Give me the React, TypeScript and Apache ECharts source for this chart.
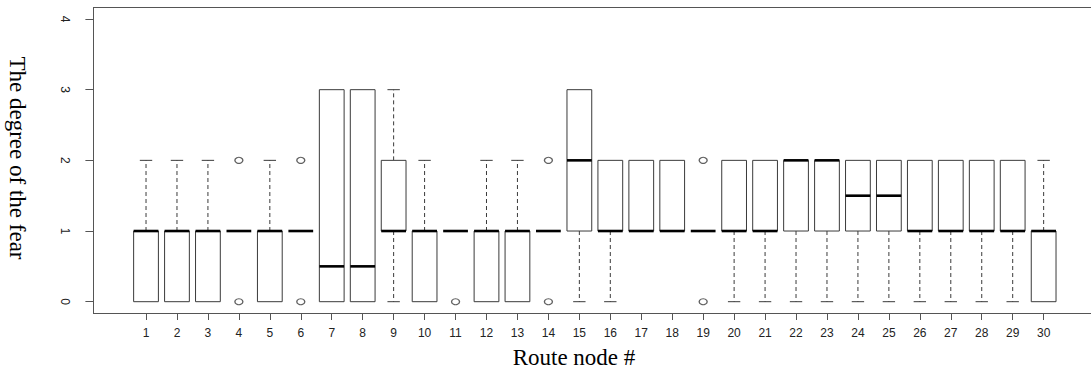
import React, { useEffect, useRef } from "react";
import * as echarts from "echarts";

const nodes = [1, 2, 3, 4, 5, 6, 7, 8, 9, 10, 11, 12, 13, 14, 15, 16, 17, 18, 19, 20, 21, 22, 23, 24, 25, 26, 27, 28, 29, 30];
const whiskerLow = [0, 0, 0, 1, 0, 1, 0, 0, 0, 0, 1, 0, 0, 1, 0, 0, 1, 1, 1, 0, 0, 0, 0, 0, 0, 0, 0, 0, 0, 0];
const q1 = [0, 0, 0, 1, 0, 1, 0, 0, 1, 0, 1, 0, 0, 1, 1, 1, 1, 1, 1, 1, 1, 1, 1, 1, 1, 1, 1, 1, 1, 0];
const median = [1, 1, 1, 1, 1, 1, 0.5, 0.5, 1, 1, 1, 1, 1, 1, 2, 1, 1, 1, 1, 1, 1, 2, 2, 1.5, 1.5, 1, 1, 1, 1, 1];
const q3 = [1, 1, 1, 1, 1, 1, 3, 3, 2, 1, 1, 1, 1, 1, 3, 2, 2, 2, 1, 2, 2, 2, 2, 2, 2, 2, 2, 2, 2, 1];
const whiskerHigh = [2, 2, 2, 1, 2, 1, 3, 3, 3, 2, 1, 2, 2, 1, 3, 2, 2, 2, 1, 2, 2, 2, 2, 2, 2, 2, 2, 2, 2, 2];
const outlierNode = [4, 4, 6, 6, 11, 14, 14, 19, 19];
const outlierValue = [0, 2, 0, 2, 0, 0, 2, 0, 2];
const yTicks = [0, 1, 2, 3, 4];

const xTitle = "Route node #";
const yTitle = "The degree of the fear";

export default function App() {
  const ref = useRef<HTMLDivElement>(null);
  useEffect(() => {
    if (!ref.current) return;
    const chart = echarts.init(ref.current, null, { renderer: "svg" });
    const boxData = nodes.map((n, i) => [n, whiskerLow[i], q1[i], median[i], q3[i], whiskerHigh[i]]);
    const outliers = outlierNode.map((n, i) => [n, outlierValue[i]]);
    const lineColor = "#3a3a3a";
    const xMin = -0.7;
    const xMax = 31.53;
    chart.setOption({
      animation: false,
      grid: {
        left: 93.4,
        top: 7.7,
        right: 0,
        height: 305.3,
      },
      xAxis: [
        {
          type: "value",
          min: xMin,
          max: xMax,
          splitLine: { show: false },
          axisLine: { show: true, onZero: false, lineStyle: { color: "#555", width: 1 } },
          axisTick: { show: true, customValues: nodes, length: 7, lineStyle: { color: "#555" } },
          axisLabel: {
            customValues: nodes,
            color: "#222",
            fontSize: 12,
            fontFamily: "Liberation Sans, Arial, sans-serif",
            margin: 14,
          },
        },
        {
          type: "value",
          position: "top",
          min: xMin,
          max: xMax,
          splitLine: { show: false },
          axisLine: { show: true, onZero: false, lineStyle: { color: "#555", width: 1 } },
          axisTick: { show: false },
          axisLabel: { show: false },
        },
      ],
      yAxis: {
        type: "value",
        min: -0.16,
        max: 4.16,
        splitLine: { show: false },
        axisLine: { show: true, onZero: false, lineStyle: { color: "#555", width: 1 } },
        axisTick: { show: true, customValues: yTicks, length: 8, lineStyle: { color: "#555" } },
        axisLabel: {
          customValues: yTicks,
          rotate: -90,
          color: "#222",
          fontSize: 12,
          fontFamily: "Liberation Sans, Arial, sans-serif",
          margin: 22,
        },
      },
      graphic: [
        {
          type: "text",
          x: 17,
          y: 158,
          rotation: -Math.PI / 2,
          style: {
            text: yTitle,
            fontSize: 23,
            fontFamily: "Liberation Serif, Times New Roman, serif",
            fill: "#000",
            align: "center",
            verticalAlign: "middle",
          },
        },
        {
          type: "text",
          x: 574,
          y: 357,
          style: {
            text: xTitle,
            fontSize: 23,
            fontFamily: "Liberation Serif, Times New Roman, serif",
            fill: "#000",
            align: "center",
            verticalAlign: "middle",
          },
        },
      ],
      series: [
        {
          type: "custom",
          xAxisIndex: 0,
          data: boxData,
          encode: { x: 0, y: [1, 2, 3, 4, 5] },
          renderItem: (params: any, api: any) => {
            const x = api.value(0);
            const lo = api.value(1);
            const a = api.value(2);
            const m = api.value(3);
            const b = api.value(4);
            const hi = api.value(5);
            const cx = api.coord([x, m])[0];
            const w = api.size([0.8, 0])[0];
            const yLo = api.coord([x, lo])[1];
            const yA = api.coord([x, a])[1];
            const yM = api.coord([x, m])[1];
            const yB = api.coord([x, b])[1];
            const yHi = api.coord([x, hi])[1];
            const children: any[] = [];
            if (hi > b) {
              children.push({
                type: "line",
                shape: { x1: cx, y1: yB, x2: cx, y2: yHi },
                style: { stroke: lineColor, lineWidth: 1, lineDash: [4, 3] },
              });
              children.push({
                type: "line",
                shape: { x1: cx - w / 4, y1: yHi, x2: cx + w / 4, y2: yHi },
                style: { stroke: lineColor, lineWidth: 1 },
              });
            }
            if (lo < a) {
              children.push({
                type: "line",
                shape: { x1: cx, y1: yA, x2: cx, y2: yLo },
                style: { stroke: lineColor, lineWidth: 1, lineDash: [4, 3] },
              });
              children.push({
                type: "line",
                shape: { x1: cx - w / 4, y1: yLo, x2: cx + w / 4, y2: yLo },
                style: { stroke: lineColor, lineWidth: 1 },
              });
            }
            if (b > a) {
              children.push({
                type: "rect",
                shape: { x: cx - w / 2, y: yB, width: w, height: yA - yB },
                style: { fill: "#fff", stroke: lineColor, lineWidth: 1 },
              });
            }
            children.push({
              type: "line",
              shape: { x1: cx - w / 2, y1: yM, x2: cx + w / 2, y2: yM },
              style: { stroke: "#000", lineWidth: 2.6 },
            });
            return { type: "group", children };
          },
        },
        {
          type: "scatter",
          xAxisIndex: 0,
          data: outliers,
          symbol: "circle",
          symbolSize: [8, 6],
          itemStyle: { color: "transparent", borderColor: lineColor, borderWidth: 1.2 },
        },
      ],
    });
    return () => chart.dispose();
  }, []);
  return (
    <div
      ref={ref}
      style={{ position: "fixed", left: 0, top: 0, width: 1091, height: 372, background: "#fff" }}
    />
  );
}
